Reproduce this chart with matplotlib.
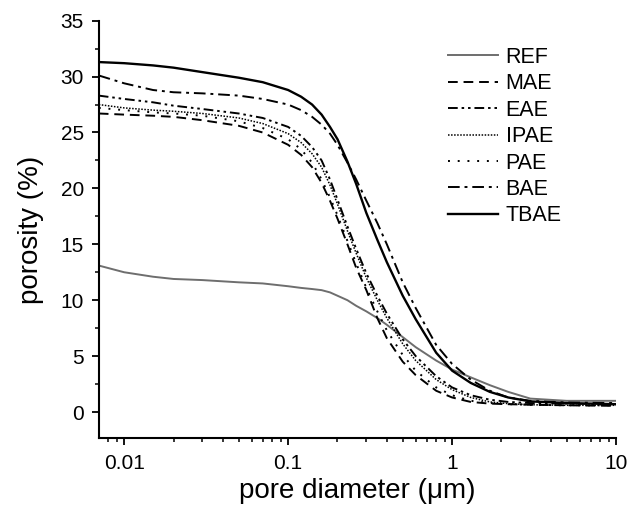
import numpy as np
from matplotlib import pyplot as plt
from matplotlib.ticker import LogLocator, MultipleLocator, FuncFormatter

plt.rcParams['font.family'] = ['Liberation Sans', 'DejaVu Sans']

# pore diameter (um)
d = [0.007, 0.01, 0.015, 0.02, 0.03, 0.05, 0.07, 0.1, 0.12, 0.14, 0.16, 0.18, 0.2, 0.23,
     0.26, 0.3, 0.35, 0.4, 0.5, 0.6, 0.8, 1.0, 1.3, 1.7, 2.2, 3, 5, 10]

# porosity (%)
REF = [13.1, 12.5, 12.1, 11.9, 11.8, 11.6, 11.5, 11.25, 11.1, 11.0, 10.9, 10.7, 10.4, 10.0,
       9.5, 9.0, 8.4, 7.8, 6.7, 5.8, 4.6, 3.8, 3.1, 2.4, 1.8, 1.2, 1.0, 1.0]
MAE = [26.7, 26.6, 26.5, 26.4, 26.1, 25.6, 25.0, 23.9, 23.0, 21.9, 20.5, 18.9, 17.3, 15.0,
       12.9, 10.9, 8.4, 6.6, 4.5, 3.3, 1.9, 1.3, 0.9, 0.75, 0.7, 0.65, 0.6, 0.55]
EAE = [28.3, 28.0, 27.7, 27.4, 27.1, 26.7, 26.3, 25.5, 24.7, 23.7, 22.5, 20.8, 19.0, 16.6,
       14.6, 12.4, 10.4, 8.8, 6.5, 5.0, 3.2, 2.2, 1.5, 1.1, 0.9, 0.8, 0.75, 0.7]
IPAE = [27.5, 27.2, 27.0, 26.9, 26.7, 26.3, 25.8, 24.9, 24.1, 23.1, 21.9, 20.3, 18.6, 16.2,
        14.2, 12.0, 10.0, 8.4, 6.1, 4.6, 2.9, 2.0, 1.3, 0.9, 0.75, 0.65, 0.6, 0.6]
PAE = [27.2, 27.0, 26.8, 26.7, 26.5, 26.0, 25.4, 24.4, 23.5, 22.3, 20.8, 19.2, 17.6, 15.3,
       13.3, 11.1, 9.0, 7.3, 5.1, 3.7, 2.2, 1.5, 1.0, 0.8, 0.7, 0.65, 0.6, 0.6]
BAE = [30.1, 29.4, 28.8, 28.6, 28.5, 28.3, 28.0, 27.5, 27.0, 26.4, 25.7, 24.9, 23.9, 22.3,
       20.8, 18.9, 16.9, 15.0, 11.6, 9.3, 6.0, 4.3, 2.9, 1.9, 1.3, 1.0, 0.85, 0.8]
TBAE = [31.3, 31.2, 31.0, 30.8, 30.4, 29.9, 29.5, 28.8, 28.2, 27.5, 26.6, 25.5, 24.4, 22.4,
        20.4, 17.8, 15.4, 13.4, 10.4, 8.3, 5.3, 3.7, 2.6, 1.8, 1.3, 0.95, 0.8, 0.7]

fig = plt.figure(figsize=(6.38, 5.11), dpi=100)
ax = fig.add_axes([0.1556, 0.1423, 0.81, 0.8172])

ax.plot(d, REF, color='#6e6e6e', lw=1.4, ls='-', label='REF')
ax.plot(d, MAE, color='k', lw=1.4, ls=(0, (5, 3)), label='MAE')
ax.plot(d, EAE, color='k', lw=1.4, ls=(0, (5, 2, 1.3, 2, 1.3, 2)), label='EAE')
ax.plot(d, IPAE, color='k', lw=1.1, ls=(0, (1, 1)), label='IPAE')
ax.plot(d, PAE, color='k', lw=1.4, ls=(0, (1, 4)), label='PAE')
ax.plot(d, BAE, color='k', lw=1.4, ls=(0, (6, 2.5, 1.5, 2.5)), label='BAE')
ax.plot(d, TBAE, color='k', lw=1.7, ls='-', label='TBAE')

ax.set_xscale('log')
ax.set_xlim(0.00705, 10)
ax.set_ylim(-2.35, 35)
ax.yaxis.set_major_locator(MultipleLocator(5))
ax.yaxis.set_minor_locator(MultipleLocator(2.5))
ax.xaxis.set_major_locator(LogLocator(base=10))
ax.xaxis.set_minor_locator(LogLocator(base=10, subs=np.arange(2, 10)))
ax.xaxis.set_major_formatter(FuncFormatter(lambda v, p: '%g' % v))

for s in ['top', 'right']:
    ax.spines[s].set_visible(False)
for s in ['left', 'bottom']:
    ax.spines[s].set_linewidth(1.5)
ax.tick_params(which='major', direction='out', length=5, width=1.3, labelsize=15, pad=6)
ax.tick_params(which='minor', direction='out', length=3, width=1.1)

ax.set_xlabel('pore diameter (\u03bcm)', fontsize=20, labelpad=4)
ax.set_ylabel('porosity (%)', fontsize=20, labelpad=12)

fig.legend(loc='upper left', bbox_to_anchor=(0.702, 0.908), frameon=False, fontsize=15.5,
           handlelength=2.35, handletextpad=0.33, labelspacing=0.25, borderpad=0, borderaxespad=0)

plt.savefig('out.png', dpi=100)
